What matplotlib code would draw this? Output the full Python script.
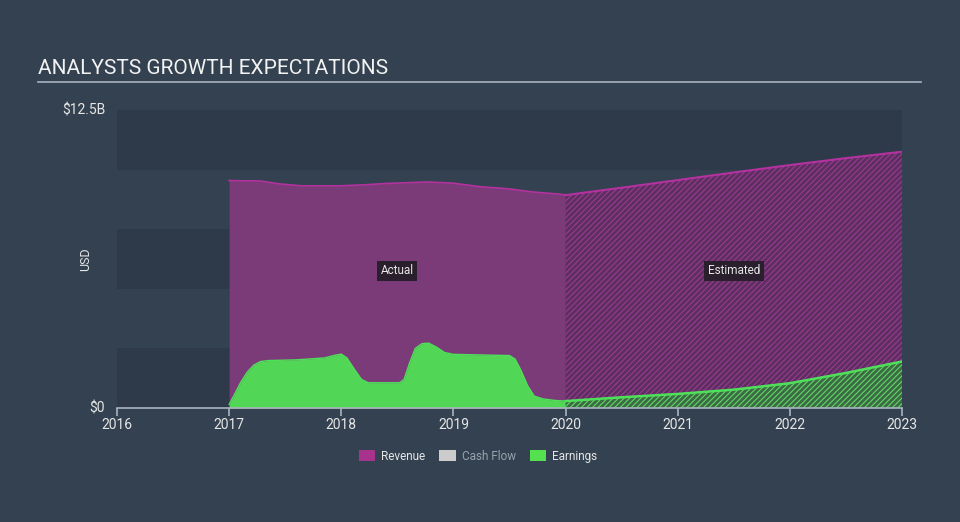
import matplotlib
matplotlib.use("Agg")
import matplotlib.pyplot as plt
from matplotlib.patches import Patch

plt.rcParams['font.family'] = ['Roboto', 'DejaVu Sans']
plt.rcParams['hatch.linewidth'] = 0.8

# ---- data (billions USD) ----
rev_act_x = [2017.0, 2017.28, 2017.45, 2017.64, 2017.99, 2018.2, 2018.41, 2018.77, 2019.0,
             2019.24, 2019.48, 2019.71, 2019.95, 2020.0]
rev_act_y = [9.54, 9.52, 9.40, 9.32, 9.32, 9.36, 9.42, 9.48, 9.43,
             9.28, 9.20, 9.06, 8.97, 8.93]
rev_est_x = [2020.0, 2020.5, 2021.0, 2021.5, 2022.0, 2022.5, 2023.0]
rev_est_y = [8.93, 9.24, 9.56, 9.88, 10.19, 10.48, 10.75]

earn_act_x = [2017.0, 2017.04, 2017.1, 2017.16, 2017.22, 2017.28, 2017.35, 2017.6, 2017.85,
              2017.95, 2018.0, 2018.05, 2018.12, 2018.18, 2018.24, 2018.52, 2018.56,
              2018.61, 2018.66, 2018.72, 2018.78, 2018.85, 2018.92, 2019.0, 2019.5,
              2019.55, 2019.6, 2019.66, 2019.72, 2019.8, 2019.9, 2020.0]
earn_act_y = [0.15, 0.5, 1.05, 1.5, 1.8, 1.95, 1.99, 2.02, 2.1,
              2.22, 2.26, 2.1, 1.6, 1.2, 1.06, 1.06, 1.2,
              1.9, 2.5, 2.7, 2.72, 2.55, 2.33, 2.25, 2.2,
              2.05, 1.6, 0.95, 0.5, 0.38, 0.32, 0.29]
earn_est_x = [2020.0, 2020.5, 2021.0, 2021.5, 2022.0, 2022.5, 2023.0]
earn_est_y = [0.29, 0.45, 0.59, 0.77, 1.04, 1.47, 1.95]

years = [2016, 2017, 2018, 2019, 2020, 2021, 2022, 2023]
ytick_vals = [0, 12.5]
ytick_labels = ['$0', '$12.5B']
legend_names = ['Revenue', 'Cash Flow', 'Earnings']

# ---- style ----
BG = '#334150'
BAND = '#2e3a49'
REV_FILL = '#7b3a78'
REV_LINE = '#b4329f'
EARN_FILL = '#52d656'
EARN_LINE = '#4fe05a'
TXT = '#e6e6e6'

fig = plt.figure(figsize=(9.6, 5.22), dpi=100, facecolor=BG)
ax = fig.add_axes([117/960, 1-408/522, (902-117)/960, (408-110)/522])
ax.set_facecolor(BG)
ax.set_xlim(2016, 2023)
ax.set_ylim(0, 12.5)

# alternating background bands
for i in range(5):
    if i % 2 == 0:
        ax.axhspan(i * 2.5, (i + 1) * 2.5, color=BAND, lw=0, zorder=0)

# revenue actual
ax.fill_between(rev_act_x, 0, rev_act_y, color=REV_FILL, lw=0, zorder=1)
ax.plot(rev_act_x, rev_act_y, color=REV_LINE, lw=1.2, zorder=2)
# revenue estimated (hatched)
ax.fill_between(rev_est_x, 0, rev_est_y, facecolor='#5c2f5f', edgecolor='#9a3a93',
                hatch='//////', lw=0, zorder=1)
ax.plot(rev_est_x, rev_est_y, color=REV_LINE, lw=1.5, zorder=2)

# earnings actual
ax.fill_between(earn_act_x, 0, earn_act_y, color=EARN_FILL, lw=0, zorder=3)
ax.plot(earn_act_x, earn_act_y, color=EARN_LINE, lw=1.0, zorder=4)
# earnings estimated
ax.fill_between(earn_est_x, 0, earn_est_y, facecolor='#3d6a45', edgecolor='#5ed964',
                hatch='//////', lw=0, zorder=3)
ax.plot(earn_est_x, earn_est_y, color=EARN_LINE, lw=1.8, zorder=4)

# axes styling
for s in ['top', 'right', 'left']:
    ax.spines[s].set_visible(False)
ax.spines['bottom'].set_color('#aab4c0')
ax.spines['bottom'].set_linewidth(1.2)
ax.spines['bottom'].set_zorder(5)
ax.set_xticks(years)
ax.set_xticklabels([str(y) for y in years])
ax.tick_params(axis='x', colors='#aab4c0', length=6, width=1.2, labelcolor=TXT,
               labelsize=10, pad=1)
ax.set_yticks([])
for v, lab in zip(ytick_vals, ytick_labels):
    ax.text(-0.015, v, lab, transform=ax.get_yaxis_transform(), ha='right',
            va='center', color=TXT, fontsize=10)
ax.text(-0.04, 0.5, 'USD', transform=ax.transAxes, rotation=90, ha='center',
        va='center', color=TXT, fontsize=9)

# Actual / Estimated labels
ax.text(2018.5, 5.75, 'Actual', ha='center', va='center', color=TXT, fontsize=8.5,
        bbox=dict(boxstyle='square,pad=0.3', fc='#2a1f2c', ec='none'), zorder=6)
ax.text(2021.5, 5.75, 'Estimated', ha='center', va='center', color=TXT, fontsize=8.5,
        bbox=dict(boxstyle='square,pad=0.3', fc='#2a1f2c', ec='none'), zorder=6)

# title and underline
fig.text(38/960, 1-69/522, 'ANALYSTS GROWTH EXPECTATIONS', color='#f2f2f2',
         fontsize=15, ha='left', va='center')
fig.add_artist(plt.Line2D([38/960, 921/960], [1-82/522, 1-82/522], color='#aab4c0', lw=1.2))

# legend
handles = [Patch(facecolor='#a8338f', edgecolor='none'),
           Patch(facecolor='#cccccc', edgecolor='none'),
           Patch(facecolor='#55e050', edgecolor='none')]
leg = fig.legend(handles, legend_names, loc='center', bbox_to_anchor=(478/960, 1-456/522),
                 ncol=3, frameon=False, fontsize=8.5, handlelength=1.4, handleheight=1.0,
                 columnspacing=1.2, handletextpad=0.5)
for t, c in zip(leg.get_texts(), [TXT, '#9aa3ad', TXT]):
    t.set_color(c)

fig.savefig('out.png', dpi=100, facecolor=BG)
